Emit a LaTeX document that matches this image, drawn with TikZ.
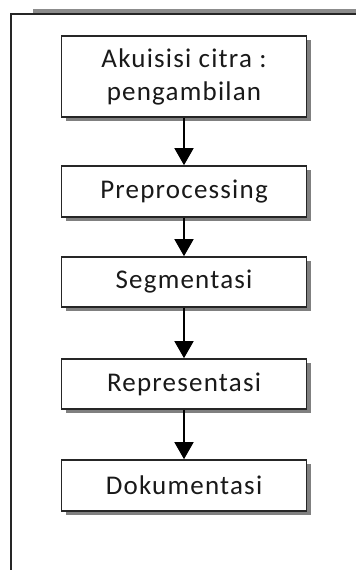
\documentclass[tikz,border=0pt]{standalone}
\usepackage{fontspec}
\setmainfont[LetterSpace=4.5]{Carlito}
\usetikzlibrary{arrows.meta,shadows}
\begin{document}
\begin{tikzpicture}[x=1pt,y=-1pt,
  stepbox/.style={draw=black!85,line width=1.6pt,fill=white,
    minimum width=245pt,inner sep=0pt,align=center,
    font=\fontsize{27}{33}\selectfont,text=black!90,
    drop shadow={shadow xshift=4pt,shadow yshift=-4pt,opacity=1,fill=black!50}},
  flow/.style={draw=black,line width=1.4pt,-{Triangle[width=19pt,length=17pt]}}]
  \useasboundingbox (0,0) rectangle (356,570);
  % page frame with its shaded top edge
  \fill[black!45] (33,9) rectangle (356,13);
  \draw[black!85,line width=2pt] (11,570) -- (11,14) -- (356,14);
  % process steps
  \node[stepbox,minimum height=81pt] (akuisisi) at (184,76.5) {Akuisisi citra :\\pengambilan};
  \node[stepbox,minimum height=51pt] (pre) at (184,191.5) {Preprocessing};
  \node[stepbox,minimum height=50pt] (seg) at (184,282) {Segmentasi};
  \node[stepbox,minimum height=50pt] (rep) at (184,384) {Representasi};
  \node[stepbox,minimum height=51pt] (dok) at (184,485.5) {Dokumentasi};
  % connectors
  \draw[flow] (akuisisi) -- (pre);
  \draw[flow] (pre) -- (seg);
  \draw[flow] (seg) -- (rep);
  \draw[flow] (rep) -- (dok);
\end{tikzpicture}
\end{document}
